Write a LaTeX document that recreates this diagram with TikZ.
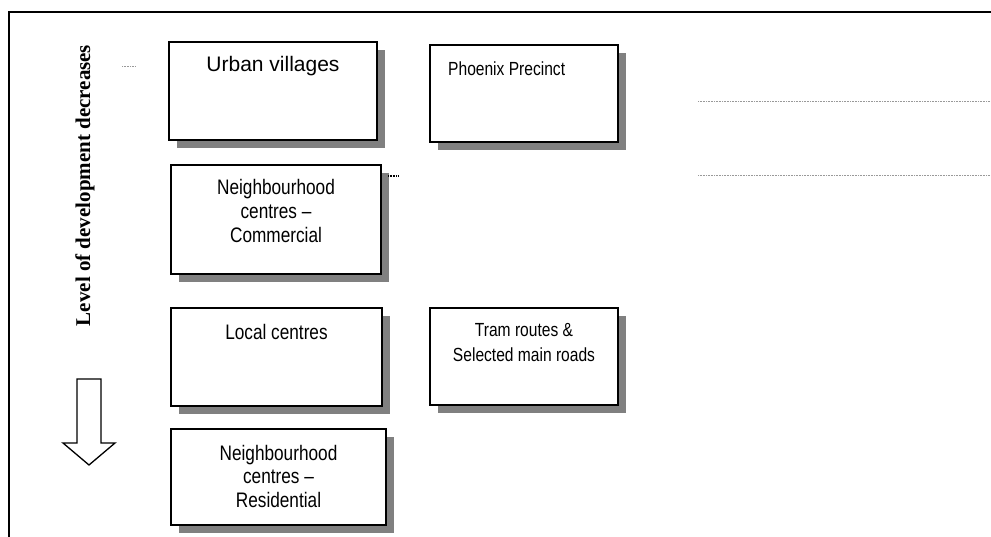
\documentclass[tikz,border=0pt]{standalone}
\usepackage{fontspec}
\setmainfont{Liberation Sans}
\newfontfamily\narrowsf{Liberation Sans}[FakeStretch=0.82]
\newfontfamily\levelrm{Liberation Serif}
\usetikzlibrary{shadows,positioning}
\definecolor{shadowgray}{HTML}{808080}
\tikzset{
  panel/.style={draw,line width=2pt,fill=white,anchor=north west,inner sep=0pt,
    drop shadow={shadow xshift=8pt,shadow yshift=-8pt,fill=shadowgray,opacity=1}},
  paneltext/.style={anchor=base,align=center,inner sep=0pt,
    font=\narrowsf\fontsize{21}{24}\selectfont},
  smalltext/.style={paneltext,font=\narrowsf\fontsize{19}{25}\selectfont},
  guide/.style={draw=gray!80,line width=0.7pt,dash pattern=on 1pt off 0.6pt},
  levelarrow/.style={draw,line width=1.3pt,fill=white,line join=miter}
}
\begin{document}
\begin{tikzpicture}[x=1pt,y=-1pt]
  \useasboundingbox (0,0) rectangle (991,537);
  % frame
  \draw[line width=2.5pt] (991,12) -- (9,12) -- (9,537);
  % boxes
  \foreach \nm/\x/\y/\w/\h in {
    urban/168/41/208/98,
    phoenix/429/44/188/97,
    commercial/170/164/210/109,
    local/170/307/211/98,
    tram/429/307/188/97,
    residential/170/428/215/96
  } {
    \node[panel,minimum width=\w pt,minimum height=\h pt] (\nm) at (\x,\y) {};
  }
  % texts (base = last line)
  \node[paneltext,font=\fontsize{21}{24}\selectfont] (urbantxt) at ([yshift=-31pt]urban.north) {Urban villages};
  \node[smalltext,anchor=base west] (phoenixtxt) at ([xshift=19pt,yshift=-32pt]phoenix.north west) {Phoenix Precinct};
  \node[paneltext] (commercialtxt) at ([yshift=-79pt]commercial.north) {Neighbourhood\\centres –\\Commercial};
  \node[paneltext] (localtxt) at ([yshift=-33pt]local.north) {Local centres};
  \node[smalltext] (tramtxt) at ([yshift=-55pt]tram.north) {Tram routes \&\\Selected main roads};
  \node[paneltext,font=\narrowsf\fontsize{21}{23.5}\selectfont] (residentialtxt) at ([yshift=-79pt]residential.north) {Neighbourhood\\centres –\\Residential};
  % level caption and arrow
  \node[rotate=90,inner sep=0pt,font=\levelrm\bfseries\fontsize{21}{24}\selectfont] (level) at (85,185.5) {Level of development decreases};
  \draw[levelarrow] (77,379) -- (101,379) -- (101,443) -- (115,443) -- (89,465) -- (63,443) -- (77,443) -- cycle;
  % stray dotted marks
  \coordinate (m1a) at (122,66);  \coordinate (m1b) at (135,66);
  \coordinate (m2a) at (388,176); \coordinate (m2b) at (399,176);
  \coordinate (g1a) at (698,101); \coordinate (g1b) at (991,101);
  \coordinate (g2a) at (698,175); \coordinate (g2b) at (991,175);
  \draw[guide] (m1a) -- (m1b);
  \draw[guide,draw=black,line width=1.6pt] (m2a) -- (m2b);
  \draw[guide] (g1a) -- (g1b);
  \draw[guide] (g2a) -- (g2b);
\end{tikzpicture}
\end{document}
